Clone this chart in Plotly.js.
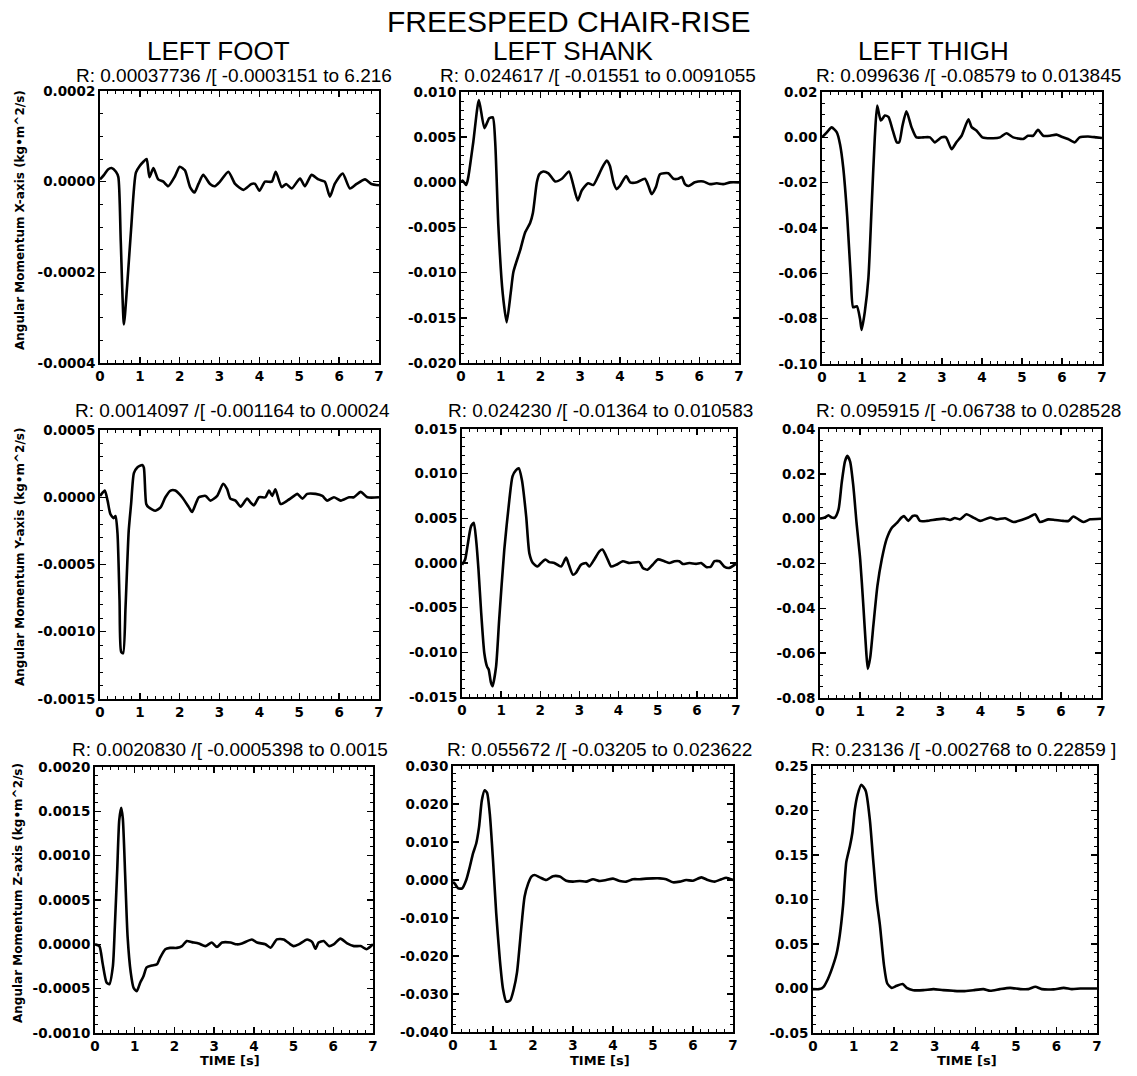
<!DOCTYPE html>
<html><head><meta charset="utf-8">
<script src="https://cdn.plot.ly/plotly-3.0.1.min.js"></script>
<style>html,body{margin:0;padding:0;background:#fff;}</style>
</head><body>
<div id="chart" style="width:1137px;height:1076px;"></div>
<script>
// ---------------- DATA ----------------
const xTickVals = [0, 1, 2, 3, 4, 5, 6, 7];

// LEFT FOOT, X-axis
const t_foot_x = [0,0.1,0.2,0.29,0.4,0.46,0.52,0.6,0.68,0.78,0.9,1.0,1.1,1.17,1.24,1.34,1.46,1.59,1.71,1.88,2.0,2.13,2.26,2.37,2.47,2.59,2.76,2.88,3.01,3.22,3.39,3.6,3.8,3.89,4.0,4.14,4.31,4.41,4.56,4.67,4.81,5.02,5.14,5.31,5.48,5.64,5.77,5.89,6.09,6.27,6.44,6.65,6.81,7.0];
const foot_x = [0.05e-4,0.15e-4,0.27e-4,0.3e-4,0.22e-4,0.1e-4,-1.3e-4,-3.15e-4,-2.3e-4,-1.05e-4,0.2e-4,0.35e-4,0.45e-4,0.5e-4,0.1e-4,0.3e-4,0.05e-4,0.0,-0.1e-4,0.12e-4,0.33e-4,0.25e-4,-0.12e-4,-0.24e-4,-0.05e-4,0.15e-4,-0.05e-4,-0.1e-4,0.0,0.22e-4,-0.05e-4,-0.18e-4,-0.05e-4,-0.05e-4,-0.2e-4,0.0,0.0,0.22e-4,-0.12e-4,-0.05e-4,-0.15e-4,0.07e-4,-0.1e-4,0.15e-4,0.05e-4,0.0,-0.33e-4,-0.05e-4,0.18e-4,-0.15e-4,-0.05e-4,0.05e-4,-0.05e-4,-0.08e-4];

// LEFT SHANK, X-axis
const t_shank_x = [0,0.04,0.13,0.18,0.31,0.45,0.59,0.71,0.8,0.86,0.94,1.05,1.15,1.25,1.32,1.49,1.61,1.74,1.81,1.91,1.97,2.07,2.2,2.37,2.54,2.72,2.81,2.94,3.04,3.2,3.33,3.46,3.54,3.67,3.75,3.84,3.92,4.0,4.16,4.26,4.43,4.63,4.72,4.8,4.91,5.01,5.22,5.35,5.47,5.56,5.64,5.73,5.89,6.1,6.27,6.44,6.6,6.78,7.0];
const shank_x = [0,0.2e-3,-0.3e-3,0.5e-3,4.5e-3,9.1e-3,6.0e-3,7.1e-3,7.2e-3,4.5e-3,-4.8e-3,-12.3e-3,-15.5e-3,-12.3e-3,-9.9e-3,-7.5e-3,-5.6e-3,-4.5e-3,-3.4e-3,0,0.9e-3,1.2e-3,1.0e-3,0.1e-3,0.4e-3,1.2e-3,0,-2.0e-3,-0.9e-3,-0.1e-3,-0.3e-3,0.75e-3,1.5e-3,2.4e-3,1.8e-3,0,-0.75e-3,-0.4e-3,0.7e-3,0,0,0.4e-3,-0.4e-3,-1.3e-3,-0.5e-3,0.9e-3,1.0e-3,0.4e-3,0.4e-3,0.6e-3,-0.2e-3,-0.4e-3,0,0.1e-3,-0.2e-3,-0.1e-3,-0.2e-3,0,0];

// LEFT THIGH, X-axis
const t_thigh_x = [0,0.12,0.24,0.37,0.45,0.53,0.63,0.72,0.78,0.87,0.95,0.99,1.07,1.16,1.24,1.32,1.38,1.47,1.57,1.66,1.77,1.87,1.93,2.01,2.11,2.24,2.36,2.53,2.7,2.82,2.99,3.1,3.24,3.36,3.49,3.66,3.74,3.86,4.01,4.28,4.45,4.61,4.78,5.03,5.15,5.28,5.4,5.53,5.7,5.86,5.99,6.15,6.32,6.44,6.65,6.86,7.0];
const thigh_x = [0,0.22e-2,0.44e-2,0.22e-2,-0.3e-2,-1.33e-2,-3.5e-2,-6.2e-2,-7.5e-2,-7.45e-2,-8.0e-2,-8.5e-2,-7.7e-2,-6.2e-2,-3.1e-2,0,1.4e-2,0.74e-2,0.96e-2,0.9e-2,0.3e-2,-0.22e-2,-0.22e-2,0.5e-2,1.15e-2,0.44e-2,0,0,0,-0.22e-2,0,0,-0.52e-2,-0.22e-2,0.07e-2,0.8e-2,0.45e-2,0.3e-2,0,-0.04e-2,0,0.18e-2,0,-0.07e-2,0.07e-2,0.07e-2,0.33e-2,0.07e-2,0.07e-2,0.12e-2,0.03e-2,-0.07e-2,-0.22e-2,0,0.04e-2,0,-0.03e-2];

// LEFT FOOT, Y-axis
const t_foot_y = [0,0.12,0.19,0.26,0.34,0.39,0.44,0.49,0.53,0.58,0.64,0.72,0.78,0.85,0.93,1.06,1.1,1.16,1.22,1.39,1.52,1.64,1.77,1.89,2.06,2.23,2.31,2.4,2.48,2.65,2.77,2.94,3.09,3.19,3.27,3.4,3.53,3.69,3.78,3.86,3.99,4.15,4.24,4.32,4.4,4.53,4.7,4.87,4.95,5.08,5.2,5.41,5.58,5.7,5.87,6.04,6.25,6.37,6.54,6.71,7.0];
const foot_y = [0.1e-4,0.5e-4,-0.25e-4,-1.25e-4,-1.55e-4,-1.4e-4,-2.75e-4,-7.7e-4,-11.5e-4,-11.6e-4,-8.2e-4,-2.5e-4,-0.5e-4,1.8e-4,2.2e-4,2.4e-4,2.2e-4,-0.5e-4,-0.75e-4,-1.0e-4,-0.75e-4,0,0.5e-4,0.5e-4,0,-0.75e-4,-1.1e-4,-0.5e-4,0,0.1e-4,-0.25e-4,0.1e-4,1.0e-4,0.6e-4,-0.1e-4,-0.25e-4,-0.7e-4,-0.1e-4,-0.4e-4,-0.6e-4,0,0,0.5e-4,0.1e-4,0.6e-4,-0.5e-4,-0.25e-4,0.1e-4,0.25e-4,-0.1e-4,0.25e-4,0.25e-4,0.1e-4,-0.25e-4,0,-0.25e-4,0,0,0.4e-4,0,0];

// LEFT SHANK, Y-axis
const t_shank_y = [0,0.08,0.14,0.23,0.3,0.36,0.42,0.49,0.57,0.64,0.68,0.74,0.78,0.87,0.95,1.08,1.21,1.29,1.38,1.45,1.53,1.64,1.72,1.81,1.93,2.02,2.13,2.23,2.36,2.53,2.66,2.73,2.83,2.91,3.04,3.17,3.25,3.38,3.51,3.59,3.72,3.81,3.94,4.11,4.28,4.53,4.62,4.74,4.87,5.0,5.17,5.3,5.43,5.55,5.64,5.81,5.98,6.11,6.24,6.36,6.45,6.58,6.7,6.83,7.0];
const shank_y = [-0.2e-3,0.4e-3,1.9e-3,4.1e-3,4.5e-3,2.6e-3,-0.7e-3,-5.6e-3,-10.1e-3,-11.6e-3,-11.9e-3,-13.4e-3,-13.8e-3,-11.6e-3,-6.3e-3,1.5e-3,7.1e-3,9.7e-3,10.4e-3,10.6e-3,9.3e-3,5.2e-3,1.1e-3,0,-0.4e-3,0,0.4e-3,0.1e-3,0,-0.4e-3,0.6e-3,-0.2e-3,-1.3e-3,-1.1e-3,-0.2e-3,0,-0.4e-3,0.4e-3,1.3e-3,1.5e-3,0.4e-3,-0.4e-3,-0.2e-3,0.2e-3,0,0.1e-3,-0.55e-3,-0.75e-3,-0.2e-3,0.4e-3,0.2e-3,0,0.2e-3,0.2e-3,-0.1e-3,0,-0.1e-3,0,-0.45e-3,-0.4e-3,0.2e-3,0.2e-3,-0.4e-3,-0.55e-3,-0.1e-3];

// LEFT THIGH, Y-axis
const t_thigh_y = [0,0.12,0.21,0.29,0.37,0.46,0.54,0.62,0.68,0.75,0.83,0.91,1.0,1.08,1.15,1.19,1.25,1.33,1.43,1.54,1.66,1.79,1.91,2.03,2.09,2.2,2.31,2.41,2.49,2.66,2.91,3.11,3.24,3.36,3.49,3.65,3.82,3.99,4.24,4.4,4.61,4.82,5.02,5.19,5.36,5.48,5.69,5.86,6.06,6.19,6.31,6.44,6.56,6.73,7.0];
const thigh_y = [0,0.05e-2,0.15e-2,0.05e-2,0.05e-2,0.4e-2,1.6e-2,2.55e-2,2.8e-2,2.55e-2,1.45e-2,-0.18e-2,-1.8e-2,-3.9e-2,-5.9e-2,-6.7e-2,-6.2e-2,-4.75e-2,-3.0e-2,-1.8e-2,-0.9e-2,-0.4e-2,-0.2e-2,0.05e-2,0.12e-2,-0.1e-2,0.12e-2,0.12e-2,-0.1e-2,-0.1e-2,-0.03e-2,0,-0.06e-2,0.03e-2,-0.03e-2,0.2e-2,0.05e-2,-0.1e-2,0.05e-2,-0.03e-2,0.02e-2,-0.15e-2,-0.06e-2,0.05e-2,0.2e-2,-0.15e-2,-0.03e-2,-0.06e-2,-0.1e-2,-0.1e-2,0.1e-2,-0.03e-2,-0.15e-2,-0.03e-2,0];

// LEFT FOOT, Z-axis
const t_foot_z = [0,0.11,0.19,0.29,0.36,0.45,0.5,0.56,0.61,0.66,0.7,0.76,0.82,0.9,0.97,1.05,1.14,1.22,1.3,1.43,1.56,1.64,1.77,1.89,2.06,2.19,2.31,2.44,2.61,2.78,2.94,3.07,3.2,3.41,3.57,3.7,3.95,4.08,4.29,4.42,4.58,4.75,4.92,5.0,5.13,5.34,5.47,5.55,5.63,5.76,5.89,6.01,6.18,6.35,6.52,6.69,6.84,7.0];
const foot_z = [0,-0.2e-4,-2.1e-4,-4.3e-4,-4.5e-4,-2.45e-4,2.1e-4,8.5e-4,14.0e-4,15.4e-4,14.2e-4,7.7e-4,0.9e-4,-3.2e-4,-4.9e-4,-5.3e-4,-4.3e-4,-3.6e-4,-2.6e-4,-2.4e-4,-2.25e-4,-1.5e-4,-0.55e-4,-0.4e-4,-0.4e-4,-0.2e-4,0.38e-4,0.25e-4,0.1e-4,-0.2e-4,0.2e-4,-0.3e-4,0.2e-4,0.2e-4,0,0.1e-4,0.55e-4,0.2e-4,0,-0.38e-4,0.55e-4,0.55e-4,0,-0.2e-4,0,0.55e-4,0.25e-4,-0.5e-4,0.2e-4,0.38e-4,-0.2e-4,0,0.64e-4,0.1e-4,-0.2e-4,-0.2e-4,-0.55e-4,0];

// LEFT SHANK, Z-axis
const t_shank_z = [0,0.04,0.13,0.23,0.33,0.42,0.5,0.58,0.65,0.72,0.79,0.85,0.92,1.0,1.08,1.17,1.25,1.33,1.43,1.52,1.6,1.71,1.79,1.88,1.96,2.04,2.17,2.33,2.5,2.67,2.83,3.0,3.17,3.33,3.5,3.67,3.83,4.0,4.17,4.33,4.5,4.67,4.83,5.0,5.17,5.33,5.5,5.67,5.83,6.0,6.21,6.37,6.54,6.71,6.83,7.0];
const shank_z = [-0.5e-3,-0.9e-3,-2.2e-3,-2.2e-3,0,3.5e-3,7.0e-3,9.6e-3,13.9e-3,20.9e-3,23.6e-3,23.0e-3,17.4e-3,5.2e-3,-8.7e-3,-20.9e-3,-28.7e-3,-32.0e-3,-31.7e-3,-28.7e-3,-24.3e-3,-12.2e-3,-4.35e-3,-0.9e-3,0.9e-3,1.3e-3,0.7e-3,0,1.0e-3,0.9e-3,-0.2e-3,-0.43e-3,-0.25e-3,-0.43e-3,0.2e-3,-0.25e-3,0,0.35e-3,-0.25e-3,-0.43e-3,0.2e-3,0.2e-3,0.35e-3,0.43e-3,0.43e-3,0.2e-3,-0.6e-3,-0.43e-3,0,-0.2e-3,0.7e-3,0,-0.43e-3,0.2e-3,0.6e-3,0];

// LEFT THIGH, Z-axis
const t_thigh_z = [0,0.16,0.26,0.37,0.48,0.58,0.66,0.74,0.82,0.91,0.97,1.03,1.1,1.19,1.3,1.4,1.48,1.57,1.65,1.75,1.83,1.94,2.06,2.21,2.31,2.47,2.72,2.97,3.21,3.46,3.71,3.95,4.2,4.37,4.61,4.86,5.11,5.31,5.48,5.64,5.93,6.18,6.38,6.59,6.8,7.0];
const thigh_z = [-0.07e-2,-0.07e-2,0.19e-2,1.1e-2,2.4e-2,3.9e-2,6.0e-2,9.3e-2,14.2e-2,16.0e-2,17.5e-2,20.1e-2,21.8e-2,22.9e-2,22.2e-2,19.0e-2,14.6e-2,9.9e-2,7.1e-2,2.6e-2,0.56e-2,0.07e-2,0.3e-2,0.5e-2,0.07e-2,-0.19e-2,-0.19e-2,-0.07e-2,-0.19e-2,-0.26e-2,-0.3e-2,-0.19e-2,-0.07e-2,-0.26e-2,-0.07e-2,0.07e-2,-0.07e-2,-0.07e-2,0.19e-2,-0.07e-2,-0.1e-2,0.07e-2,-0.07e-2,0,0,0];

// Y tick values per panel
const yt_foot_x  = [-0.0004, -0.0002, 0, 0.0002];
const yt_shank_x = [-0.020, -0.015, -0.010, -0.005, 0, 0.005, 0.010];
const yt_thigh_x = [-0.10, -0.08, -0.06, -0.04, -0.02, 0, 0.02];
const yt_foot_y  = [-0.0015, -0.0010, -0.0005, 0, 0.0005];
const yt_shank_y = [-0.015, -0.010, -0.005, 0, 0.005, 0.010, 0.015];
const yt_thigh_y = [-0.08, -0.06, -0.04, -0.02, 0, 0.02, 0.04];
const yt_foot_z  = [-0.0010, -0.0005, 0, 0.0005, 0.0010, 0.0015, 0.0020];
const yt_shank_z = [-0.040, -0.030, -0.020, -0.010, 0, 0.010, 0.020, 0.030];
const yt_thigh_z = [-0.05, 0, 0.05, 0.10, 0.15, 0.20, 0.25];

// Texts
const mainTitle = "FREESPEED CHAIR-RISE";
const columnTitles = ["LEFT FOOT", "LEFT SHANK", "LEFT THIGH"];
const rowTitles = ["Angular Momentum X-axis (kg•m^2/s)", "Angular Momentum Y-axis (kg•m^2/s)", "Angular Momentum Z-axis (kg•m^2/s)"];
const xTitle = "TIME [s]";
const headers = [
  "R: 0.00037736 /[ -0.0003151 to 6.216", "R: 0.024617 /[ -0.01551 to 0.0091055", "R: 0.099636 /[ -0.08579 to 0.013845",
  "R: 0.0014097 /[ -0.001164 to 0.00024", "R: 0.024230 /[ -0.01364 to 0.010583", "R: 0.095915 /[ -0.06738 to 0.028528",
  "R: 0.0020830 /[ -0.0005398 to 0.0015", "R: 0.055672 /[ -0.03205 to 0.023622", "R: 0.23136 /[ -0.002768 to 0.22859 ]"
];

// ---------------- LAYOUT / STYLE ----------------
const W = 1137, H = 1076;
const px = v => v / W;
const py = v => 1 - v / H;

const panels = [
  {t: t_foot_x,  v: foot_x,  yt: yt_foot_x,  dec: 4, minor: 0.00005, box: [100, 379, 91, 363]},
  {t: t_shank_x, v: shank_x, yt: yt_shank_x, dec: 3, minor: 0.001,   box: [461, 739, 92, 363]},
  {t: t_thigh_x, v: thigh_x, yt: yt_thigh_x, dec: 2, minor: 0.005,   box: [822, 1102, 92, 364]},
  {t: t_foot_y,  v: foot_y,  yt: yt_foot_y,  dec: 4, minor: 0.0001,  box: [100, 379, 430, 699]},
  {t: t_shank_y, v: shank_y, yt: yt_shank_y, dec: 3, minor: 0.001,   box: [462, 736, 429, 697]},
  {t: t_thigh_y, v: thigh_y, yt: yt_thigh_y, dec: 2, minor: 0.005,   box: [820, 1101, 429, 698]},
  {t: t_foot_z,  v: foot_z,  yt: yt_foot_z,  dec: 4, minor: 0.0001,  box: [95, 373, 767, 1033]},
  {t: t_shank_z, v: shank_z, yt: yt_shank_z, dec: 3, minor: 0.002,   box: [453, 733, 766, 1032]},
  {t: t_thigh_z, v: thigh_z, yt: yt_thigh_z, dec: 2, minor: 0.01,    box: [813, 1097, 766, 1033]}
];

const headerPos = [[234,75],[598,75],[968,75],[232,410],[600,410],[968,410],[230,749],[599,749],[963,749]];
const colTitlePos = [[218,51],[573,51],[933,51]];
const rowTitlePos = [[20,220],[20,557],[18,893]];
const xTitlePos = [[230,1060],[600,1060],[967,1060]];

const tickFont = {family: "DejaVu Sans", size: 13.5, color: "#000", weight: "bold"};
const fmt = (v, d) => { const s = Math.abs(v).toFixed(d); return (v < 0 ? "-" : "") + s; };

const data = [];
const layout = {
  width: W, height: H,
  margin: {l: 0, r: 0, t: 0, b: 0},
  paper_bgcolor: "#fff", plot_bgcolor: "#fff",
  showlegend: false,
  annotations: []
};

panels.forEach((p, i) => {
  const n = i + 1;
  const xa = "xaxis" + (n === 1 ? "" : n), ya = "yaxis" + (n === 1 ? "" : n);
  const xr = "x" + (n === 1 ? "" : n), yr = "y" + (n === 1 ? "" : n);
  data.push({
    x: p.t, y: p.v, xaxis: xr, yaxis: yr, type: "scatter", mode: "lines",
    line: {color: "#000", width: 2.6, shape: "spline", smoothing: 0.6},
    hoverinfo: "skip"
  });
  const lo = p.yt[0], hi = p.yt[p.yt.length - 1], span = hi - lo;
  const common = {
    showline: true, linecolor: "#000", linewidth: 2, mirror: "allticks",
    ticks: "inside", ticklen: 6, tickwidth: 1.5, tickcolor: "#000",
    showgrid: false, zeroline: false, tickfont: tickFont, fixedrange: true
  };
  layout[xa] = Object.assign({}, common, {
    domain: [px(p.box[0]), px(p.box[1])], anchor: yr,
    range: [-0.0005, 7.0005], tickmode: "array", tickvals: xTickVals,
    ticktext: xTickVals.map(v => String(v)),
    minor: {tickmode: "linear", tick0: 0, dtick: 0.2, ticks: "inside", ticklen: 3, tickwidth: 1, tickcolor: "#000"}
  });
  layout[ya] = Object.assign({}, common, {
    domain: [py(p.box[3]), py(p.box[2])], anchor: xr,
    range: [lo - span * 1e-4, hi + span * 1e-4], tickmode: "array",
    tickvals: p.yt, ticktext: p.yt.map(v => fmt(v, p.dec)),
    minor: {tickmode: "linear", tick0: 0, dtick: p.minor, ticks: "inside", ticklen: 3, tickwidth: 1, tickcolor: "#000"}
  });
  layout.annotations.push({
    text: headers[i], xref: "paper", yref: "paper", x: px(headerPos[i][0]), y: py(headerPos[i][1]),
    xanchor: "center", yanchor: "middle", showarrow: false,
    font: {family: "Liberation Sans", size: 19, color: "#000"}
  });
});

layout.annotations.push({
  text: mainTitle, xref: "paper", yref: "paper", x: px(568), y: py(21),
  xanchor: "center", yanchor: "middle", showarrow: false,
  font: {family: "Liberation Sans", size: 30, color: "#000"}
});
columnTitles.forEach((s, i) => layout.annotations.push({
  text: s, xref: "paper", yref: "paper", x: px(colTitlePos[i][0]), y: py(colTitlePos[i][1]),
  xanchor: "center", yanchor: "middle", showarrow: false,
  font: {family: "Liberation Sans", size: 26, color: "#000"}
}));
rowTitles.forEach((s, i) => layout.annotations.push({
  text: s, xref: "paper", yref: "paper", x: px(rowTitlePos[i][0]), y: py(rowTitlePos[i][1]),
  xanchor: "center", yanchor: "middle", showarrow: false, textangle: -90,
  font: {family: "DejaVu Sans", size: 12, color: "#000", weight: "bold"}
}));
xTitlePos.forEach((pos) => layout.annotations.push({
  text: xTitle, xref: "paper", yref: "paper", x: px(pos[0]), y: py(pos[1]),
  xanchor: "center", yanchor: "middle", showarrow: false,
  font: {family: "DejaVu Sans", size: 13, color: "#000", weight: "bold"}
}));

Plotly.newPlot("chart", data, layout, {displayModeBar: false, staticPlot: true});
</script>
</body></html>
